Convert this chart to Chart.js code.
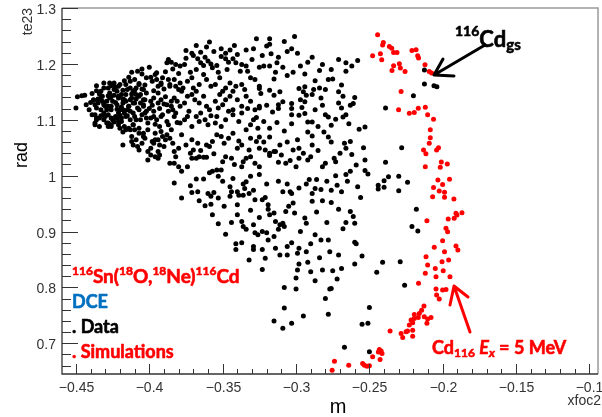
<!DOCTYPE html>
<html lang="en">
<head>
  <meta charset="UTF-8" />
  <title>te23 vs xfoc2</title>
  <script src="https://cdn.jsdelivr.net/npm/chart.js"></script>
  <style>
    body { margin: 0; background: #fff; }
    #wrap { width: 602px; height: 417px; }
  </style>
</head>
<body>
<div id="wrap"><canvas id="plot" width="602" height="417"></canvas></div>
<script>
  // axis limits (xfoc2, te23)
  const xRange = [-0.4595, -0.0942];
  const yRange = [0.645, 1.3];

  // measured events [xfoc2, te23]
  const dataPts = [
    [-0.412,1.185],[-0.408,1.187],[-0.405,1.191],[-0.400,1.194],[-0.395,1.184],[-0.388,1.202],[-0.387,1.208],[-0.385,1.203],[-0.382,1.199],
    [-0.436,1.161],[-0.431,1.166],[-0.428,1.157],[-0.427,1.166],[-0.425,1.163],[-0.424,1.154],[-0.421,1.160],[-0.418,1.153],[-0.416,1.163],[-0.413,1.169],[-0.411,1.151],[-0.409,1.157],[-0.407,1.165],[-0.404,1.154],[-0.402,1.175],[-0.399,1.176],[-0.396,1.181],[-0.394,1.160],[-0.392,1.166],[-0.391,1.175],[-0.387,1.172],[-0.386,1.163],[-0.383,1.172],[-0.382,1.160],[-0.380,1.154],
    [-0.449,1.141],[-0.446,1.143],[-0.444,1.144],[-0.450,1.121],[-0.443,1.127],[-0.438,1.136],[-0.437,1.127],[-0.436,1.121],[-0.435,1.130],[-0.433,1.139],[-0.431,1.130],[-0.429,1.133],[-0.428,1.124],[-0.427,1.139],[-0.426,1.118],[-0.425,1.133],[-0.422,1.127],[-0.421,1.139],[-0.420,1.118],[-0.418,1.130],[-0.417,1.136],[-0.414,1.124],[-0.413,1.115],[-0.412,1.139],[-0.410,1.130],[-0.408,1.121],[-0.407,1.142],[-0.404,1.127],[-0.402,1.115],[-0.399,1.133],[-0.397,1.139],[-0.394,1.130],[-0.392,1.136],[-0.388,1.127],[-0.385,1.133],[-0.383,1.139],
    [-0.439,1.109],[-0.436,1.100],[-0.437,1.091],[-0.434,1.103],[-0.430,1.106],[-0.428,1.094],[-0.426,1.088],[-0.425,1.100],[-0.422,1.103],[-0.421,1.091],[-0.419,1.097],[-0.417,1.088],[-0.416,1.106],[-0.413,1.082],[-0.411,1.091],[-0.409,1.100],[-0.407,1.085],[-0.404,1.076],[-0.402,1.103],[-0.401,1.094],[-0.397,1.106],[-0.395,1.100],[-0.393,1.088],[-0.391,1.109],[-0.388,1.097],[-0.385,1.082],[-0.383,1.106],
    [-0.418,1.055],[-0.412,1.061],[-0.411,1.055],[-0.408,1.052],[-0.407,1.046],[-0.403,1.067],[-0.401,1.043],[-0.399,1.049],[-0.396,1.064],[-0.394,1.043],[-0.393,1.055],[-0.391,1.070],[-0.388,1.073],[-0.386,1.067],[-0.384,1.058],[-0.383,1.043],[-0.380,1.049],
    [-0.401,1.028],[-0.399,1.037],[-0.396,1.034],[-0.394,1.031],[-0.393,1.037],[-0.386,1.022],[-0.383,1.022],[-0.380,1.016],[-0.382,1.034],[-0.383,0.987],
    [-0.438,1.135],[-0.435,1.137],[-0.432,1.142],[-0.431,1.127],[-0.433,1.118],[-0.430,1.124],[-0.428,1.143],[-0.426,1.161],[-0.424,1.166],[-0.423,1.158],[-0.422,1.151],[-0.426,1.141],[-0.421,1.142],[-0.418,1.137],[-0.416,1.145],[-0.415,1.154],[-0.413,1.157],[-0.410,1.153],[-0.407,1.163],[-0.405,1.155],
    [-0.406,1.145],[-0.409,1.137],[-0.411,1.130],[-0.414,1.124],[-0.418,1.118],[-0.421,1.112],[-0.423,1.106],[-0.426,1.103],[-0.428,1.109],[-0.431,1.112],[-0.433,1.107],[-0.436,1.103],[-0.437,1.094],[-0.431,1.100],[-0.429,1.094],[-0.426,1.091],[-0.421,1.097],[-0.419,1.103],[-0.415,1.107],[-0.413,1.100],
    [-0.411,1.091],[-0.414,1.085],[-0.416,1.082],[-0.410,1.082],[-0.407,1.076],[-0.411,1.112],[-0.407,1.118],[-0.404,1.124],[-0.403,1.136],[-0.402,1.148],[-0.405,1.109],[-0.406,1.100],[-0.416,1.133],[-0.413,1.136],[-0.426,1.124],[-0.433,1.151],[-0.431,1.157],[-0.434,1.088],[-0.428,1.088],[-0.437,1.109],
    [-0.422,1.119],[-0.419,1.123],[-0.404,1.070],[-0.401,1.082],[-0.399,1.103],[-0.392,1.106],[-0.387,1.115],[-0.382,1.112],[-0.385,1.124],[-0.381,1.133],[-0.394,1.148],[-0.395,1.172],[-0.392,1.163],[-0.386,1.160],[-0.378,1.151],[-0.396,1.076],[-0.392,1.079],[-0.389,1.064],[-0.394,1.064],[-0.397,1.058],
    [-0.441,1.118],[-0.440,1.131],[-0.439,1.147],[-0.436,1.152],[-0.434,1.146],[-0.432,1.133],[-0.429,1.118],[-0.427,1.148],[-0.424,1.144],[-0.423,1.131],[-0.420,1.108],[-0.419,1.145],[-0.417,1.112],[-0.415,1.118],[-0.412,1.146],[-0.410,1.106],[-0.409,1.145],[-0.406,1.130],[-0.404,1.136],[-0.403,1.112],
    [-0.400,1.120],[-0.398,1.126],[-0.397,1.115],[-0.396,1.092],[-0.393,1.120],[-0.390,1.128],[-0.389,1.141],[-0.387,1.091],[-0.384,1.118],[-0.381,1.095],[-0.420,1.163],[-0.417,1.170],[-0.414,1.176],[-0.410,1.172],[-0.405,1.182],[-0.403,1.162],[-0.398,1.169],[-0.397,1.152],[-0.390,1.155],[-0.389,1.186],
    [-0.384,1.191],[-0.380,1.183],[-0.420,1.085],[-0.424,1.096],[-0.418,1.078],[-0.412,1.070],[-0.409,1.064],[-0.405,1.058],[-0.398,1.061],[-0.390,1.052],
    [-0.359,1.239],[-0.368,1.233],[-0.361,1.230],[-0.375,1.224],[-0.371,1.219],[-0.365,1.221],[-0.351,1.227],[-0.348,1.219],[-0.345,1.225],[-0.342,1.233],[-0.334,1.225],[-0.327,1.245],
    [-0.379,1.196],[-0.376,1.199],[-0.375,1.210],[-0.370,1.215],[-0.367,1.209],[-0.365,1.202],[-0.363,1.197],[-0.360,1.205],[-0.358,1.200],[-0.357,1.193],[-0.354,1.197],[-0.351,1.213],[-0.348,1.209],[-0.346,1.203],[-0.343,1.209],[-0.341,1.202],[-0.338,1.187],[-0.334,1.196],[-0.333,1.187],
    [-0.379,1.166],[-0.377,1.157],[-0.374,1.169],[-0.371,1.175],[-0.370,1.157],[-0.368,1.151],[-0.366,1.163],[-0.363,1.181],[-0.361,1.172],[-0.358,1.160],[-0.355,1.163],[-0.352,1.175],[-0.350,1.151],[-0.348,1.157],[-0.345,1.166],[-0.343,1.151],[-0.341,1.160],[-0.337,1.163],[-0.335,1.154],[-0.331,1.175],[-0.328,1.172],[-0.325,1.160],
    [-0.379,1.124],[-0.376,1.130],[-0.374,1.142],[-0.371,1.145],[-0.369,1.136],[-0.366,1.130],[-0.363,1.142],[-0.361,1.124],[-0.359,1.118],[-0.355,1.133],[-0.353,1.121],[-0.352,1.145],[-0.350,1.127],[-0.348,1.136],[-0.345,1.142],[-0.343,1.118],[-0.340,1.136],[-0.337,1.124],[-0.334,1.142],[-0.331,1.133],[-0.328,1.118],[-0.325,1.124],
    [-0.379,1.094],[-0.376,1.100],[-0.374,1.106],[-0.371,1.088],[-0.368,1.106],[-0.366,1.097],[-0.362,1.100],[-0.360,1.091],[-0.355,1.094],[-0.354,1.106],[-0.351,1.088],[-0.348,1.100],[-0.343,1.109],[-0.337,1.112],[-0.334,1.082],[-0.331,1.091],[-0.329,1.100],[-0.326,1.085],
    [-0.378,1.073],[-0.354,1.073],[-0.351,1.070],[-0.346,1.067],[-0.343,1.076],[-0.331,1.067],
    [-0.372,1.185],[-0.368,1.190],[-0.362,1.212],[-0.356,1.222],[-0.353,1.185],[-0.347,1.190],[-0.340,1.217],[-0.337,1.199],[-0.330,1.208],[-0.329,1.227],[-0.323,1.215],[-0.320,1.232],[-0.312,1.212],[-0.309,1.194],[-0.308,1.240],[-0.297,1.196],[-0.289,1.212],[-0.284,1.188],[-0.276,1.190],[-0.271,1.208],
    [-0.262,1.196],[-0.373,1.115],[-0.365,1.112],[-0.358,1.107],[-0.346,1.115],[-0.339,1.097],[-0.333,1.120],[-0.327,1.104],[-0.322,1.097],[-0.318,1.085],[-0.313,1.095],[-0.308,1.080],[-0.303,1.093],[-0.299,1.064],[-0.296,1.122],[-0.287,1.118],[-0.285,1.088],[-0.276,1.090],[-0.271,1.130],[-0.264,1.093],
    [-0.260,1.140],[-0.372,1.040],[-0.365,1.045],[-0.356,1.039],[-0.350,1.025],[-0.342,1.020],[-0.339,1.062],[-0.322,1.060],[-0.312,1.024],[-0.306,1.060],[-0.295,1.040],[-0.285,1.045],[-0.276,1.060],[-0.270,1.040],[-0.262,1.038],
    [-0.318,1.245],[-0.318,1.235],[-0.301,1.249],[-0.306,1.222],[-0.303,1.227],[-0.299,1.219],[-0.317,1.218],[-0.292,1.203],[-0.282,1.199],[-0.266,1.202],[-0.266,1.187],[-0.258,1.206],[-0.294,1.182],[-0.302,1.185],[-0.313,1.202],[-0.314,1.185],[-0.315,1.173],[-0.325,1.194],[-0.322,1.196],[-0.318,1.196],
    [-0.287,1.170],[-0.278,1.172],[-0.275,1.173],[-0.306,1.179],[-0.325,1.156],[-0.324,1.147],[-0.318,1.153],[-0.315,1.144],[-0.298,1.156],[-0.295,1.150],[-0.294,1.159],[-0.293,1.144],[-0.288,1.154],[-0.284,1.157],[-0.280,1.154],[-0.269,1.162],[-0.271,1.150],[-0.268,1.142],[-0.311,1.150],[-0.312,1.127],
    [-0.309,1.132],[-0.312,1.120],[-0.303,1.129],[-0.303,1.120],[-0.303,1.109],[-0.297,1.136],[-0.294,1.132],[-0.298,1.108],[-0.294,1.111],[-0.289,1.145],[-0.283,1.139],[-0.292,1.096],[-0.289,1.096],[-0.282,1.126],[-0.280,1.109],[-0.278,1.105],[-0.269,1.121],[-0.263,1.126],[-0.261,1.129],[-0.273,1.101],
    [-0.268,1.105],[-0.266,1.109],[-0.257,1.083],[-0.253,1.087],[-0.281,1.078],[-0.278,1.069],[-0.289,1.071],[-0.292,1.078],[-0.325,1.069],[-0.318,1.069],[-0.325,1.121],[-0.320,1.126],[-0.316,1.114],
    [-0.375,1.055],[-0.371,1.064],[-0.370,1.046],[-0.367,1.058],[-0.361,1.055],[-0.359,1.052],[-0.357,1.061],[-0.349,1.058],[-0.340,1.049],[-0.337,1.055],[-0.332,1.046],[-0.327,1.061],[-0.325,1.049],[-0.321,1.046],[-0.318,1.040],[-0.314,1.043],[-0.311,1.055],[-0.302,1.046],[-0.298,1.049],[-0.289,1.055],[-0.267,1.058],[-0.266,1.049],[-0.263,1.061],
    [-0.378,1.008],[-0.374,1.016],[-0.371,1.031],[-0.368,1.031],[-0.366,1.034],[-0.363,1.033],[-0.361,1.033],[-0.359,1.005],[-0.357,1.008],[-0.354,1.010],[-0.351,1.010],[-0.348,1.034],[-0.344,1.031],[-0.337,1.016],[-0.336,1.025],[-0.334,1.031],[-0.331,1.034],[-0.328,1.022],[-0.325,1.016],[-0.318,1.036],
    [-0.315,1.043],[-0.310,1.037],[-0.307,1.022],[-0.304,1.027],[-0.300,1.016],[-0.298,1.031],[-0.292,1.028],[-0.290,1.034],[-0.282,1.016],[-0.280,1.022],[-0.274,1.031],[-0.273,1.025],[-0.266,1.002],[-0.263,1.008],[-0.259,1.019],
    [-0.353,0.999],[-0.368,0.994],[-0.363,0.994],[-0.331,0.999],[-0.325,1.002],[-0.291,0.993],[-0.286,0.993],[-0.273,1.000],
    [-0.350,0.990],[-0.343,0.995],[-0.336,0.985],[-0.320,0.985],[-0.312,0.990],[-0.306,0.985],[-0.298,0.978],[-0.293,0.985],[-0.283,0.975],[-0.279,0.990],[-0.265,0.990],[-0.372,0.982],[-0.366,0.955],[-0.349,0.945],[-0.331,0.938],[-0.325,0.925],[-0.305,0.945],[-0.297,0.900],[-0.286,0.935],[-0.271,0.940],
    [-0.268,0.905],[-0.348,0.895],[-0.337,0.880],[-0.314,0.870],[-0.303,0.880],[-0.292,0.845],[-0.287,0.812],[-0.272,0.815],
    [-0.378,0.960],[-0.371,0.970],[-0.367,0.971],[-0.360,0.968],[-0.358,0.963],[-0.358,0.949],[-0.362,0.946],[-0.357,0.930],[-0.353,0.960],[-0.353,0.914],[-0.356,0.970],[-0.345,0.980],[-0.344,0.971],[-0.345,0.963],[-0.340,0.971],[-0.339,0.965],[-0.336,0.965],[-0.335,0.977],[-0.332,0.968],[-0.329,0.974],
    [-0.334,0.989],[-0.328,0.957],[-0.340,0.948],[-0.340,0.930],[-0.344,0.916],[-0.337,0.918],[-0.336,0.909],[-0.334,0.904],[-0.329,0.912],[-0.328,0.898],[-0.326,0.894],[-0.323,0.900],[-0.320,0.898],[-0.319,0.885],[-0.323,0.957],[-0.319,0.948],[-0.321,0.961],[-0.319,0.940],[-0.318,0.930],[-0.315,0.933],
    [-0.314,0.918],[-0.312,0.904],[-0.311,0.912],[-0.309,0.915],[-0.308,0.909],[-0.315,0.891],[-0.309,0.971],[-0.304,0.971],[-0.303,0.968],[-0.302,0.951],[-0.307,0.936],[-0.301,0.933],[-0.294,0.924],[-0.293,0.915],[-0.289,0.954],[-0.289,0.968],[-0.287,0.977],[-0.282,0.955],[-0.276,0.952],[-0.276,0.974],
    [-0.272,0.983],[-0.269,0.971],[-0.279,0.916],[-0.266,0.916],[-0.287,0.894],[-0.283,0.885],[-0.278,0.885],[-0.290,0.878],[-0.293,0.864],[-0.298,0.870],[-0.299,0.861],[-0.298,0.842],[-0.299,0.831],[-0.300,0.817],[-0.300,0.797],[-0.308,0.800],[-0.306,0.873],[-0.311,0.858],[-0.306,0.858],[-0.284,0.853],
    [-0.277,0.864],[-0.271,0.858],[-0.269,0.834],[-0.275,0.830],[-0.282,0.831],[-0.290,0.828],[-0.323,0.832],[-0.321,0.852],[-0.323,0.868],[-0.329,0.873],[-0.329,0.868],[-0.332,0.849],[-0.341,0.878],[-0.341,0.868],[-0.308,0.763],[-0.315,0.740],[-0.309,0.727],[-0.303,0.736],[-0.295,0.749],[-0.278,0.752],
    [-0.280,0.780],[-0.277,0.797],[-0.276,0.798],[-0.267,0.693],[-0.263,0.936],[-0.261,0.927],[-0.260,0.915],[-0.258,0.980],
    [-0.254,1.050],[-0.253,1.028],[-0.253,1.009],[-0.251,1.003],[-0.228,1.050],[-0.239,1.024],[-0.244,0.983],[-0.240,0.991],[-0.237,0.998],[-0.244,0.976],[-0.240,0.979],[-0.230,0.999],[-0.224,0.988],[-0.230,0.973],[-0.256,0.961],[-0.218,0.940],[-0.221,0.909],[-0.217,0.901],[-0.239,1.121],
    [-0.260,0.881],[-0.259,0.878],[-0.255,0.856],[-0.260,0.842],[-0.241,0.845],[-0.245,0.827],[-0.229,0.846],[-0.226,0.804],[-0.250,0.764],[-0.255,0.734],[-0.251,0.736],[-0.250,0.685],
    [-0.2125,1.189],[-0.2125,1.164],[-0.206,1.161],[-0.204,1.159],[-0.220,1.143]
  ];

  // simulated Ex = 5 MeV events [xfoc2, te23]
  const simPts = [
    [-0.2444,1.2522],[-0.2405,1.2384],[-0.2410,1.2340],[-0.2478,1.2145],[-0.2425,1.2180],[-0.2416,1.2074],[-0.2364,1.2310],[-0.2348,1.2280],[-0.2335,1.2205],[-0.2312,1.2205],
    [-0.2210,1.2240],[-0.2182,1.2253],[-0.2171,1.2145],[-0.2165,1.2104],[-0.2346,1.1880],[-0.2335,1.1966],[-0.2296,1.2002],[-0.2289,1.1925],[-0.2257,1.1864],[-0.2121,1.1984],
    [-0.2092,1.1864],[-0.2076,1.1835],[-0.2284,1.1506],[-0.2301,1.1178],[-0.2228,1.1118],[-0.2194,1.1129],[-0.2167,1.1208],[-0.2119,1.1226],[-0.2103,1.1090],[-0.2063,1.1011],
    [-0.2085,1.0820],[-0.2085,1.0676],[-0.2092,1.0580],[-0.2131,1.0460],[-0.2115,1.0390],[-0.2042,1.0460],[-0.2029,1.0500],[-0.2010,1.0246],[-0.1969,1.0210],[-0.2017,1.0150],
    [-0.2119,1.0160],[-0.2033,0.9923],[-0.2001,0.9840],[-0.1954,0.9936],[-0.2063,0.9786],[-0.2024,0.9726],[-0.1988,0.9703],[-0.2069,0.9624],[-0.1988,0.9613],[-0.1924,0.9583],
    [-0.1910,0.9326],[-0.1869,0.9337],[-0.1903,0.9296],[-0.1922,0.9237],[-0.1963,0.9224],[-0.2108,0.9194],[-0.1978,0.9058],[-0.1967,0.8997],[-0.2001,0.8836],[-0.2058,0.8717],
    [-0.1910,0.8740],[-0.1897,0.8670],[-0.1988,0.8640],[-0.2114,0.8549],[-0.1960,0.8490],[-0.2005,0.8460],[-0.2103,0.8400],[-0.2051,0.8340],[-0.2119,0.8251],[-0.1997,0.8298],
    [-0.1951,0.8190],[-0.2046,0.8190],[-0.2165,0.8072],[-0.2046,0.7970],[-0.2001,0.7952],[-0.1978,0.7964],[-0.2042,0.7862],[-0.2024,0.7791],
    [-0.2128,0.7665],[-0.2144,0.7593],[-0.2160,0.7534],[-0.2194,0.7516],[-0.2194,0.7445],[-0.2167,0.7463],[-0.2216,0.7415],[-0.2205,0.7368],[-0.2228,0.7325],[-0.2126,0.7473],
    [-0.2103,0.7433],[-0.2080,0.7463],[-0.2108,0.7356],[-0.2250,0.7205],[-0.2284,0.7175],[-0.2273,0.7104],[-0.2240,0.7221],[-0.2205,0.7127],[-0.2205,0.7234],[-0.2359,0.7221],
    [-0.2432,0.6889],[-0.2420,0.6863],[-0.2439,0.6845],[-0.2478,0.6757],[-0.2427,0.6710],[-0.2414,0.6818],
    [-0.2546,0.6639],[-0.2534,0.6608],[-0.2500,0.6596],[-0.2516,0.6590],[-0.2641,0.6608],[-0.2738,0.6679],[-0.2754,0.6518]
  ];

  const tickFont = '14px "Liberation Sans", Arial, sans-serif';
  const noteFont = 'Lato, "Open Sans", sans-serif';
  const RED = '#ff0000';

  function toXY(list) {
    return list.map(p => ({ x: p[0], y: p[1] }));
  }

  // draws a line of text made of runs with their own size, offset and style
  function drawRuns(ctx, x, base, color, runs) {
    ctx.fillStyle = color;
    ctx.strokeStyle = color;
    ctx.lineWidth = 0.6;
    ctx.lineJoin = 'round';
    ctx.textAlign = 'left';
    ctx.textBaseline = 'alphabetic';
    for (const r of runs) {
      ctx.font = (r.italic ? 'italic ' : '') + 'bold ' + r.size + 'px ' + noteFont;
      ctx.fillText(r.t, x, base + (r.dy || 0));
      ctx.strokeText(r.t, x, base + (r.dy || 0));
      x += ctx.measureText(r.t).width;
    }
  }

  function arrow(ctx, color, tail, tip, w1, w2) {
    ctx.strokeStyle = color;
    ctx.lineWidth = 3;
    ctx.lineCap = 'round';
    ctx.lineJoin = 'round';
    ctx.beginPath();
    ctx.moveTo(tail[0], tail[1]);
    ctx.lineTo(tip[0], tip[1]);
    ctx.moveTo(w1[0], w1[1]);
    ctx.lineTo(tip[0], tip[1]);
    ctx.lineTo(w2[0], w2[1]);
    ctx.stroke();
  }

  const rootFrame = {
    id: 'rootFrame',
    afterDatasetsDraw(chart) {
      const { ctx, chartArea: a, scales: { x, y } } = chart;
      ctx.save();

      // frame: light top/right, dark axes
      ctx.strokeStyle = '#9a9a9a';
      ctx.lineWidth = 1.5;
      ctx.beginPath();
      ctx.moveTo(a.left, a.top);
      ctx.lineTo(a.right, a.top);
      ctx.lineTo(a.right, a.bottom);
      ctx.stroke();

      ctx.strokeStyle = '#333';
      ctx.lineWidth = 1.3;
      ctx.beginPath();
      ctx.moveTo(a.left, a.top);
      ctx.lineTo(a.left, a.bottom);
      ctx.lineTo(a.right, a.bottom);
      ctx.stroke();

      ctx.lineWidth = 1;
      ctx.fillStyle = '#333';
      ctx.font = tickFont;

      // y ticks, every 0.02, labelled every 0.1
      ctx.textAlign = 'right';
      ctx.textBaseline = 'alphabetic';
      for (let k = Math.ceil(yRange[0] / 0.02 - 1e-6); k <= Math.floor(yRange[1] / 0.02 + 1e-6); k++) {
        const py = Math.round(y.getPixelForValue(k * 0.02)) + 0.5;
        const major = k % 5 === 0;
        ctx.beginPath();
        ctx.moveTo(a.left, py);
        ctx.lineTo(a.left + (major ? 16 : 9), py);
        ctx.stroke();
        if (major) ctx.fillText(String(k / 50), 56, py + 5.5);
      }

      // x ticks, every 0.01, labelled every 0.05
      ctx.textAlign = 'center';
      for (let k = Math.ceil(xRange[0] / 0.01 - 1e-6); k <= Math.floor(xRange[1] / 0.01 + 1e-6); k++) {
        const px = Math.round(x.getPixelForValue(k * 0.01)) + 0.5;
        const major = k % 5 === 0;
        ctx.beginPath();
        ctx.moveTo(px, a.bottom);
        ctx.lineTo(px, a.bottom - (major ? 10 : 5));
        ctx.stroke();
        if (major) ctx.fillText(String(k / 100).replace('-', '\u2212'), px, 392);
      }

      // axis titles
      ctx.textAlign = 'right';
      ctx.fillText('xfoc2', 601, 405);
      ctx.save();
      ctx.translate(32, a.top);
      ctx.rotate(-Math.PI / 2);
      ctx.fillText('te23', 0, 0);
      ctx.restore();

      ctx.fillStyle = '#000';
      ctx.font = '20px "Liberation Sans", Arial, sans-serif';
      ctx.textAlign = 'center';
      ctx.fillText('m', 338, 413);
      ctx.save();
      ctx.translate(27, 155);
      ctx.rotate(-Math.PI / 2);
      ctx.font = '18px "Liberation Sans", Arial, sans-serif';
      ctx.fillText('rad', 0, 0);
      ctx.restore();

      // annotations
      drawRuns(ctx, 72, 283, RED, [
        { t: '116', size: 12, dy: -8 }, { t: 'Sn(', size: 19 },
        { t: '18', size: 12, dy: -8 }, { t: 'O,', size: 19 },
        { t: '18', size: 12, dy: -8 }, { t: 'Ne)', size: 19 },
        { t: '116', size: 12, dy: -8 }, { t: 'Cd', size: 19 }
      ]);
      drawRuns(ctx, 72, 308, '#0070c0', [{ t: 'DCE', size: 18 }]);
      drawRuns(ctx, 72, 333, '#000', [{ t: '. Data', size: 18 }]);
      drawRuns(ctx, 72, 358, RED, [{ t: '. Simulations', size: 18 }]);

      drawRuns(ctx, 455, 47, '#000', [
        { t: '116', size: 14, dy: -11 }, { t: 'Cd', size: 22 }, { t: 'gs', size: 15, dy: 3 }
      ]);
      drawRuns(ctx, 432, 354, RED, [
        { t: 'Cd', size: 18 }, { t: '116', size: 12, dy: 3 }, { t: ' ', size: 18 },
        { t: 'E', size: 18, italic: true }, { t: 'x', size: 12, dy: 3, italic: true },
        { t: ' = 5 MeV', size: 18 }
      ]);

      arrow(ctx, '#000', [485, 45], [434, 75], [443, 59], [454, 76]);
      arrow(ctx, RED, [470, 332], [454, 286], [450, 305], [468, 297]);

      ctx.restore();
    }
  };

  new Chart(document.getElementById('plot'), {
    type: 'scatter',
    data: {
      datasets: [
        {
          label: 'Data',
          data: toXY(dataPts),
          backgroundColor: '#000',
          borderWidth: 0,
          pointRadius: 2.5
        },
        {
          label: 'Simulations',
          data: toXY(simPts),
          backgroundColor: RED,
          borderWidth: 0,
          pointRadius: 2.5
        }
      ]
    },
    options: {
      responsive: false,
      animation: false,
      devicePixelRatio: 1,
      layout: { padding: { left: 0, top: 8, right: 3, bottom: 0 } },
      plugins: {
        legend: { display: false },
        tooltip: { enabled: false }
      },
      scales: {
        x: {
          type: 'linear',
          min: xRange[0],
          max: xRange[1],
          grid: { display: false, drawTicks: false },
          border: { display: false },
          ticks: { display: false },
          afterFit: s => { s.height = 43; }
        },
        y: {
          type: 'linear',
          min: yRange[0],
          max: yRange[1],
          grid: { display: false, drawTicks: false },
          border: { display: false },
          ticks: { display: false },
          afterFit: s => { s.width = 62; }
        }
      }
    },
    plugins: [rootFrame]
  });
</script>
</body>
</html>
